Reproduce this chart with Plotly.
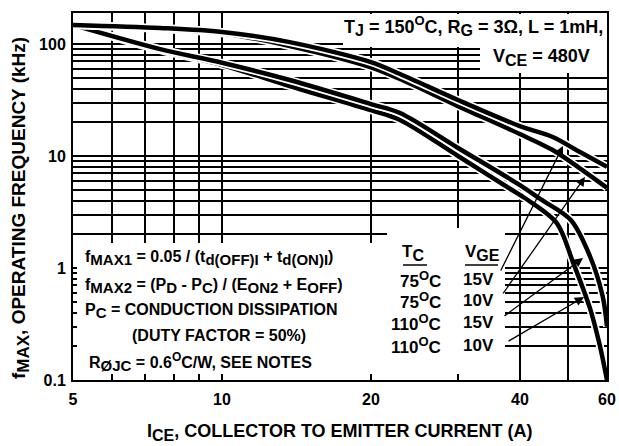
import math
import plotly.graph_objects as go

# ---------------- data ----------------
ice_75c_15v = [5, 7.5, 10, 13.7, 20, 22.9, 30, 40, 46.6, 52.8, 60]
fmax_75c_15v = [148, 139, 128, 104, 69, 54, 31.6, 18.5, 14.8, 10.9, 8.0]

ice_75c_10v = [5, 7.5, 10, 13.7, 20, 22.9, 30, 40, 46.6, 52.8, 60]
fmax_75c_10v = [148, 136, 125, 96, 62, 48.7, 27.9, 15.7, 11.3, 7.8, 5.2]

ice_110c_15v = [5, 7.5, 10, 13.7, 20, 22.9, 30, 40, 44.3, 50.7, 55.4, 58.8, 60]
fmax_110c_15v = [148, 90, 68, 47.7, 29.1, 24.2, 11.8, 5.5, 4.05, 2.68, 1.28, 0.56, 0.3]

ice_110c_10v = [5, 7.5, 10, 13.7, 20, 22.9, 30, 40, 41.5, 47.5, 51.2, 55.4, 58.0, 60]
fmax_110c_10v = [148, 88, 65, 42.2, 25.7, 21.0, 10.0, 4.49, 4.05, 2.52, 1.13, 0.44, 0.205, 0.1]

x_tickvals = [5, 6, 7, 8, 9, 10, 20, 30, 40, 50, 60]
x_ticktext = ["5", "", "", "", "", "10", "20", "", "40", "", "60"]

y_tickvals = [0.1, 0.2, 0.3, 0.4, 0.5, 0.6, 0.7, 0.8, 0.9,
              1, 2, 3, 4, 5, 6, 7, 8, 9,
              10, 20, 30, 40, 50, 60, 70, 80, 90, 100]
y_ticktext = ["0.1"] + [""] * 8 + ["1"] + [""] * 8 + ["10"] + [""] * 8 + ["100"]

legend_tc = ["75", "75", "110", "110"]
legend_vge = ["15V", "10V", "15V", "10V"]

# ---------------- layout geometry ----------------
W, H = 619, 446
L, R, T, B = 73, 12, 13, 66
PW, PH = W - L - R, H - T - B
XR = [math.log10(5), math.log10(60)]
YR = [-1, 2.277]


def px(xp):
    return (xp - L) / PW


def py(yp):
    return (H - B - yp) / PH


def xdata(xp):
    return 10 ** (XR[0] + px(xp) * (XR[1] - XR[0]))


def ydata(yp):
    return 10 ** (YR[0] + py(yp) * (YR[1] - YR[0]))


FONT = "Liberation Sans, Arial, Helvetica, sans-serif"


def sub(s, size=15):
    return '<sub><span style="font-size:%dpx">%s</span></sub>' % (size, s)


def sup(s, size=12):
    return '<sup><span style="font-size:%dpx">%s</span></sup>' % (size, s)


fig = go.Figure()

# white boxes behind the text blocks (cover gridlines, stay under the curves)
boxes = [(77, 243, 505, 374), (387, 228, 505, 243), (343, 14, 607, 47), (480, 47, 607, 73)]
for x0, y0, x1, y1 in boxes:
    fig.add_trace(go.Scatter(
        x=[xdata(x0), xdata(x1), xdata(x1), xdata(x0), xdata(x0)],
        y=[ydata(y1), ydata(y1), ydata(y0), ydata(y0), ydata(y1)],
        mode="lines", fill="toself", fillcolor="white", line=dict(width=0, color="white"),
        hoverinfo="skip", showlegend=False))

curves = [
    (ice_110c_10v, fmax_110c_10v, "110°C 10V"),
    (ice_110c_15v, fmax_110c_15v, "110°C 15V"),
    (ice_75c_10v, fmax_75c_10v, "75°C 10V"),
    (ice_75c_15v, fmax_75c_15v, "75°C 15V"),
]
for xs, ys, name in curves:
    fig.add_trace(go.Scatter(x=xs, y=ys, mode="lines", hoverinfo="skip", showlegend=False,
                             line=dict(color="white", width=8, shape="spline", smoothing=0.9)))
    fig.add_trace(go.Scatter(x=xs, y=ys, mode="lines", name=name, showlegend=False,
                             line=dict(color="black", width=4.5, shape="spline", smoothing=0.9)))

shapes = []
# underlines of legend headers
for x0, x1 in [(403, 427), (465, 498)]:
    shapes.append(dict(type="line", xref="paper", yref="paper", layer="above",
                       x0=px(x0), x1=px(x1), y0=py(265), y1=py(265),
                       line=dict(color="black", width=1.5)))

ann = []


def text(t, x, y, xanchor="left", yanchor="middle", size=16, angle=0):
    ann.append(dict(text="<b>" + t + "</b>", x=px(x), y=py(y), xref="paper", yref="paper",
                    xanchor=xanchor, yanchor=yanchor, showarrow=False, textangle=angle,
                    font=dict(family=FONT, size=size, color="black")))


text("f" + sub("MAX1") + " = 0.05 / (t" + sub("d(OFF)I") + " + t" + sub("d(ON)I") + ")", 83, 258)
text("f" + sub("MAX2") + " = (P" + sub("D") + " - P" + sub("C") + ") / (E" + sub("ON2")
     + " + E" + sub("OFF") + ")", 83, 286)
text("P" + sub("C") + " = CONDUCTION DISSIPATION", 83, 311)
text("(DUTY FACTOR = 50%)", 130, 335)
text("R" + sub("ØJC") + " = 0.6" + sup("O") + "C/W, SEE NOTES", 87, 362)

text("T" + sub("C", 16), 413, 253, xanchor="center", size=17)
text("V" + sub("GE", 16), 482, 253, xanchor="center", size=17)
for i, (tc, vge) in enumerate(zip(legend_tc, legend_vge)):
    yy = [279, 300, 322, 345][i]
    text(tc + sup("O", 13) + "C", 443, yy, xanchor="right", size=17)
    text(vge, 496, yy, xanchor="right", size=17)

text("T" + sub("J", 16) + " = 150" + sup("O", 13) + "C, R" + sub("G", 16) + " = 3Ω, L = 1mH,",
     605, 26, xanchor="right", size=18)
text("V" + sub("CE", 16) + " = 480V", 592, 57, xanchor="right", size=18)

text("I" + sub("CE", 16) + ", COLLECTOR TO EMITTER CURRENT (A)", 340, 432, xanchor="center", size=18)
text("f" + sub("MAX", 17) + ", OPERATING FREQUENCY (kHz)", 20, 208, xanchor="center",
     angle=-90, size=19)

# arrows from legend rows to curves: (tip, tail)
arrows = [((563, 146), (500, 272)), ((585, 177), (502, 295)),
          ((583, 258), (503, 317)), ((584, 297), (507, 342))]
for (tx, ty), (sx, sy) in arrows:
    ann.append(dict(x=px(tx), y=py(ty), xref="paper", yref="paper", text="",
                    showarrow=True, ax=sx - tx, ay=sy - ty, axref="pixel", ayref="pixel",
                    arrowhead=2, arrowsize=1.4, arrowwidth=1.3, arrowcolor="black",
                    standoff=0, startstandoff=0))

axis_common = dict(showgrid=True, gridcolor="black", gridwidth=2, showline=True,
                   linecolor="black", linewidth=2, mirror=True, ticks="", zeroline=False,
                   automargin=False,
                   tickfont=dict(family=FONT, size=16, color="black", weight="bold"))

fig.update_layout(
    width=W, height=H, autosize=False, margin=dict(l=L, r=R, t=T, b=B, pad=0),
    paper_bgcolor="white", plot_bgcolor="white",
    xaxis=dict(type="log", range=XR, tickmode="array",
               tickvals=x_tickvals, ticktext=x_ticktext, ticklabelstandoff=4, **axis_common),
    yaxis=dict(type="log", range=YR, tickmode="array",
               tickvals=y_tickvals, ticktext=y_ticktext, ticklabelstandoff=2, **axis_common),
    shapes=shapes, annotations=ann, showlegend=False,
)

post = ("document.body.style.margin='0';document.body.style.overflow='hidden';"
        "Plotly.relayout('{plot_id}', {width: %d, height: %d});" % (W, H))
fig.write_html("out.html", config={"displayModeBar": False, "responsive": False},
               post_script=post)
